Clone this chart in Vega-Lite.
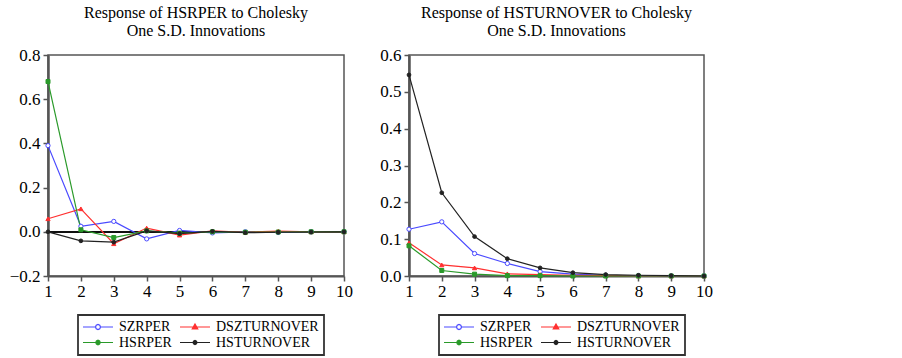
{
  "$schema": "https://vega.github.io/schema/vega-lite/v6.json",
  "background": "white",
  "padding": {"left": 8, "top": 4, "right": 5, "bottom": 0},
  "bounds": "flush",
  "spacing": 65,
  "config": {
    "font": "Liberation Serif",
    "view": {"stroke": "#555", "strokeWidth": 1.5},
    "title": {"font": "Liberation Serif", "fontSize": 16, "fontWeight": "normal", "color": "#000", "lineHeight": 18, "offset": 7, "anchor": "middle"},
    "legend": {"labelFont": "Liberation Serif", "labelFontSize": 14, "labelColor": "#000"}
  },
  "datasets": {
    "hsrper": [
      {"period": 1, "series": "SZRPER", "value": 0.39},
      {"period": 2, "series": "SZRPER", "value": 0.025},
      {"period": 3, "series": "SZRPER", "value": 0.047},
      {"period": 4, "series": "SZRPER", "value": -0.032},
      {"period": 5, "series": "SZRPER", "value": 0.006},
      {"period": 6, "series": "SZRPER", "value": -0.005},
      {"period": 7, "series": "SZRPER", "value": 0.0},
      {"period": 8, "series": "SZRPER", "value": -0.003},
      {"period": 9, "series": "SZRPER", "value": 0.0},
      {"period": 10, "series": "SZRPER", "value": 0.0},
      {"period": 1, "series": "DSZTURNOVER", "value": 0.059},
      {"period": 2, "series": "DSZTURNOVER", "value": 0.104},
      {"period": 3, "series": "DSZTURNOVER", "value": -0.054},
      {"period": 4, "series": "DSZTURNOVER", "value": 0.017},
      {"period": 5, "series": "DSZTURNOVER", "value": -0.015},
      {"period": 6, "series": "DSZTURNOVER", "value": 0.004},
      {"period": 7, "series": "DSZTURNOVER", "value": -0.002},
      {"period": 8, "series": "DSZTURNOVER", "value": 0.003},
      {"period": 9, "series": "DSZTURNOVER", "value": 0.0},
      {"period": 10, "series": "DSZTURNOVER", "value": 0.0},
      {"period": 1, "series": "HSRPER", "value": 0.68},
      {"period": 2, "series": "HSRPER", "value": 0.009},
      {"period": 3, "series": "HSRPER", "value": -0.026},
      {"period": 4, "series": "HSRPER", "value": 0.004},
      {"period": 5, "series": "HSRPER", "value": -0.006},
      {"period": 6, "series": "HSRPER", "value": 0.0},
      {"period": 7, "series": "HSRPER", "value": -0.002},
      {"period": 8, "series": "HSRPER", "value": -0.001},
      {"period": 9, "series": "HSRPER", "value": 0.0},
      {"period": 10, "series": "HSRPER", "value": 0.0},
      {"period": 1, "series": "HSTURNOVER", "value": 0.0},
      {"period": 2, "series": "HSTURNOVER", "value": -0.041},
      {"period": 3, "series": "HSTURNOVER", "value": -0.047},
      {"period": 4, "series": "HSTURNOVER", "value": 0.004},
      {"period": 5, "series": "HSTURNOVER", "value": -0.008},
      {"period": 6, "series": "HSTURNOVER", "value": 0.002},
      {"period": 7, "series": "HSTURNOVER", "value": -0.004},
      {"period": 8, "series": "HSTURNOVER", "value": -0.002},
      {"period": 9, "series": "HSTURNOVER", "value": -0.001},
      {"period": 10, "series": "HSTURNOVER", "value": 0.0}
    ],
    "hsturnover": [
      {"period": 1, "series": "SZRPER", "value": 0.127},
      {"period": 2, "series": "SZRPER", "value": 0.147},
      {"period": 3, "series": "SZRPER", "value": 0.061},
      {"period": 4, "series": "SZRPER", "value": 0.034},
      {"period": 5, "series": "SZRPER", "value": 0.012},
      {"period": 6, "series": "SZRPER", "value": 0.005},
      {"period": 7, "series": "SZRPER", "value": 0.002},
      {"period": 8, "series": "SZRPER", "value": 0.001},
      {"period": 9, "series": "SZRPER", "value": 0.0},
      {"period": 10, "series": "SZRPER", "value": 0.0},
      {"period": 1, "series": "DSZTURNOVER", "value": 0.09},
      {"period": 2, "series": "DSZTURNOVER", "value": 0.03},
      {"period": 3, "series": "DSZTURNOVER", "value": 0.022},
      {"period": 4, "series": "DSZTURNOVER", "value": 0.006},
      {"period": 5, "series": "DSZTURNOVER", "value": 0.004},
      {"period": 6, "series": "DSZTURNOVER", "value": 0.002},
      {"period": 7, "series": "DSZTURNOVER", "value": 0.001},
      {"period": 8, "series": "DSZTURNOVER", "value": 0.0},
      {"period": 9, "series": "DSZTURNOVER", "value": 0.0},
      {"period": 10, "series": "DSZTURNOVER", "value": 0.0},
      {"period": 1, "series": "HSRPER", "value": 0.082},
      {"period": 2, "series": "HSRPER", "value": 0.015},
      {"period": 3, "series": "HSRPER", "value": 0.005},
      {"period": 4, "series": "HSRPER", "value": 0.001},
      {"period": 5, "series": "HSRPER", "value": 0.001},
      {"period": 6, "series": "HSRPER", "value": 0.0},
      {"period": 7, "series": "HSRPER", "value": 0.0},
      {"period": 8, "series": "HSRPER", "value": 0.0},
      {"period": 9, "series": "HSRPER", "value": 0.0},
      {"period": 10, "series": "HSRPER", "value": 0.0},
      {"period": 1, "series": "HSTURNOVER", "value": 0.546},
      {"period": 2, "series": "HSTURNOVER", "value": 0.226},
      {"period": 3, "series": "HSTURNOVER", "value": 0.107},
      {"period": 4, "series": "HSTURNOVER", "value": 0.047},
      {"period": 5, "series": "HSTURNOVER", "value": 0.022},
      {"period": 6, "series": "HSTURNOVER", "value": 0.009},
      {"period": 7, "series": "HSTURNOVER", "value": 0.004},
      {"period": 8, "series": "HSTURNOVER", "value": 0.002},
      {"period": 9, "series": "HSTURNOVER", "value": 0.001},
      {"period": 10, "series": "HSTURNOVER", "value": 0.0}
    ]
  },
  "resolve": {"scale": {"color": "independent", "y": "independent", "x": "independent"}, "legend": {"color": "independent"}},
  "hconcat": [
    {
      "width": 296,
      "height": 221,
      "title": {"text": ["Response of HSRPER to Cholesky", "One S.D. Innovations"]},
      "data": {"name": "hsrper"},
      "encoding": {
        "x": {"field": "period", "type": "quantitative", "scale": {"domain": [1, 10], "nice": false, "zero": false},
              "axis": {"values": [1, 2, 3, 4, 5, 6, 7, 8, 9, 10], "format": "d", "title": null, "labelFont": "Liberation Serif", "labelFontSize": 17, "labelColor": "#000", "domainColor": "#555", "domainWidth": 2, "tickColor": "#555", "tickWidth": 1.5, "tickSize": 5, "grid": false, "labelFlush": false, "labelOverlap": false, "labelPadding": 2}},
        "y": {"field": "value", "type": "quantitative", "scale": {"domain": [-0.2, 0.8], "nice": false, "zero": false},
              "axis": {"values": [-0.2, 0, 0.2, 0.4, 0.6, 0.8], "format": ".1f", "title": null, "labelFont": "Liberation Serif", "labelFontSize": 17, "labelColor": "#000", "domainColor": "#555", "domainWidth": 2.5, "tickColor": "#555", "tickWidth": 1.5, "tickSize": 5, "grid": false, "labelFlush": false, "labelOverlap": false, "labelPadding": 3}}
      },
      "layer": [
        {
          "mark": {"type": "rule", "color": "#111", "strokeWidth": 1.2},
          "encoding": {"x": null, "y": {"datum": 0, "type": "quantitative"}}
        },
        {
          "mark": {"type": "line", "strokeWidth": 1.2},
          "encoding": {
            "color": {
              "field": "series", "type": "nominal",
              "scale": {"domain": ["SZRPER", "DSZTURNOVER", "HSRPER", "HSTURNOVER"], "range": ["#4a4aff", "#ff3030", "#2a9a2a", "#222222"]},
              "legend": {
                "title": null, "orient": "none", "direction": "horizontal", "legendX": 30, "legendY": 260, "columns": 2, "columnPadding": 5, "rowPadding": 1.5, "padding": 5,
                "symbolSize": 100, "symbolStrokeWidth": 1.2, "symbolOffset": 8, "labelOffset": 14, "strokeColor": "#333",
                "encode": {
                  "legend": {"update": {"strokeWidth": {"value": 1.8}}},
                  "symbols": {"update": {
                    "shape": {"signal": "datum.value==='SZRPER' ? 'M-3,0L-0.5,0M0.5,0L3,0M0.5,0L0.354,0.354L0,0.5L-0.354,0.354L-0.5,0L-0.354,-0.354L0,-0.5L0.354,-0.354Z' : datum.value==='DSZTURNOVER' ? 'M-3,0L3,0M0,-0.6L0.55,0.4L-0.55,0.4Z' : datum.value==='HSRPER' ? 'M-3,0L3,0M0.45,0L0.318,0.318L0,0.45L-0.318,0.318L-0.45,0L-0.318,-0.318L0,-0.45L0.318,-0.318Z' : 'M-3,0L3,0M0.4,0L0.283,0.283L0,0.4L-0.283,0.283L-0.4,0L-0.283,-0.283L0,-0.4L0.283,-0.283Z'"},
                    "fill": {"signal": "datum.value==='SZRPER' ? 'white' : datum.value==='DSZTURNOVER' ? '#ff3030' : datum.value==='HSRPER' ? '#2a9a2a' : '#222222'"},
                    "stroke": {"signal": "datum.value==='SZRPER' ? '#4a4aff' : datum.value==='DSZTURNOVER' ? '#ff3030' : datum.value==='HSRPER' ? '#2a9a2a' : '#444444'"},
                    "opacity": {"value": 1}
                  }}
                }
              }
            }
          }
        },
        {"transform": [{"filter": "datum.series === 'SZRPER'"}], "mark": {"type": "point", "shape": "circle", "size": 18, "strokeWidth": 1, "stroke": "#4a4aff", "fill": "#ffffff", "filled": true, "opacity": 1}},
        {"transform": [{"filter": "datum.series === 'DSZTURNOVER'"}], "mark": {"type": "point", "shape": "triangle-up", "size": 18, "strokeWidth": 1, "stroke": "#ff3030", "fill": "#ff3030", "filled": true, "opacity": 1}},
        {"transform": [{"filter": "datum.series === 'HSRPER'"}], "mark": {"type": "point", "shape": "square", "size": 16, "strokeWidth": 1, "stroke": "#2a9a2a", "fill": "#2a9a2a", "filled": true, "opacity": 1}},
        {"transform": [{"filter": "datum.series === 'HSTURNOVER'"}], "mark": {"type": "point", "shape": "circle", "size": 14, "strokeWidth": 1, "stroke": "#222222", "fill": "#222222", "filled": true, "opacity": 1}}
      ]
    },
    {
      "width": 295,
      "height": 221,
      "title": {"text": ["Response of HSTURNOVER to Cholesky", "One S.D. Innovations"]},
      "data": {"name": "hsturnover"},
      "encoding": {
        "x": {"field": "period", "type": "quantitative", "scale": {"domain": [1, 10], "nice": false, "zero": false},
              "axis": {"values": [1, 2, 3, 4, 5, 6, 7, 8, 9, 10], "format": "d", "title": null, "labelFont": "Liberation Serif", "labelFontSize": 17, "labelColor": "#000", "domainColor": "#555", "domainWidth": 2, "tickColor": "#555", "tickWidth": 1.5, "tickSize": 5, "grid": false, "labelFlush": false, "labelOverlap": false, "labelPadding": 2}},
        "y": {"field": "value", "type": "quantitative", "scale": {"domain": [0, 0.6], "nice": false},
              "axis": {"values": [0, 0.1, 0.2, 0.3, 0.4, 0.5, 0.6], "format": ".1f", "title": null, "labelFont": "Liberation Serif", "labelFontSize": 17, "labelColor": "#000", "domainColor": "#555", "domainWidth": 2.5, "tickColor": "#555", "tickWidth": 1.5, "tickSize": 5, "grid": false, "labelFlush": false, "labelOverlap": false, "labelPadding": 3}}
      },
      "layer": [
        {
          "mark": {"type": "line", "strokeWidth": 1.2},
          "encoding": {
            "color": {
              "field": "series", "type": "nominal",
              "scale": {"domain": ["SZRPER", "DSZTURNOVER", "HSRPER", "HSTURNOVER"], "range": ["#4a4aff", "#ff3030", "#2a9a2a", "#222222"]},
              "legend": {
                "title": null, "orient": "none", "direction": "horizontal", "legendX": 30, "legendY": 260, "columns": 2, "columnPadding": 5, "rowPadding": 1.5, "padding": 5,
                "symbolSize": 100, "symbolStrokeWidth": 1.2, "symbolOffset": 8, "labelOffset": 14, "strokeColor": "#333",
                "encode": {
                  "legend": {"update": {"strokeWidth": {"value": 1.8}}},
                  "symbols": {"update": {
                    "shape": {"signal": "datum.value==='SZRPER' ? 'M-3,0L-0.5,0M0.5,0L3,0M0.5,0L0.354,0.354L0,0.5L-0.354,0.354L-0.5,0L-0.354,-0.354L0,-0.5L0.354,-0.354Z' : datum.value==='DSZTURNOVER' ? 'M-3,0L3,0M0,-0.6L0.55,0.4L-0.55,0.4Z' : datum.value==='HSRPER' ? 'M-3,0L3,0M0.45,0L0.318,0.318L0,0.45L-0.318,0.318L-0.45,0L-0.318,-0.318L0,-0.45L0.318,-0.318Z' : 'M-3,0L3,0M0.4,0L0.283,0.283L0,0.4L-0.283,0.283L-0.4,0L-0.283,-0.283L0,-0.4L0.283,-0.283Z'"},
                    "fill": {"signal": "datum.value==='SZRPER' ? 'white' : datum.value==='DSZTURNOVER' ? '#ff3030' : datum.value==='HSRPER' ? '#2a9a2a' : '#222222'"},
                    "stroke": {"signal": "datum.value==='SZRPER' ? '#4a4aff' : datum.value==='DSZTURNOVER' ? '#ff3030' : datum.value==='HSRPER' ? '#2a9a2a' : '#444444'"},
                    "opacity": {"value": 1}
                  }}
                }
              }
            }
          }
        },
        {"transform": [{"filter": "datum.series === 'SZRPER'"}], "mark": {"type": "point", "shape": "circle", "size": 18, "strokeWidth": 1, "stroke": "#4a4aff", "fill": "#ffffff", "filled": true, "opacity": 1}},
        {"transform": [{"filter": "datum.series === 'DSZTURNOVER'"}], "mark": {"type": "point", "shape": "triangle-up", "size": 18, "strokeWidth": 1, "stroke": "#ff3030", "fill": "#ff3030", "filled": true, "opacity": 1}},
        {"transform": [{"filter": "datum.series === 'HSRPER'"}], "mark": {"type": "point", "shape": "square", "size": 16, "strokeWidth": 1, "stroke": "#2a9a2a", "fill": "#2a9a2a", "filled": true, "opacity": 1}},
        {"transform": [{"filter": "datum.series === 'HSTURNOVER'"}], "mark": {"type": "point", "shape": "circle", "size": 14, "strokeWidth": 1, "stroke": "#222222", "fill": "#222222", "filled": true, "opacity": 1}}
      ]
    }
  ]
}
